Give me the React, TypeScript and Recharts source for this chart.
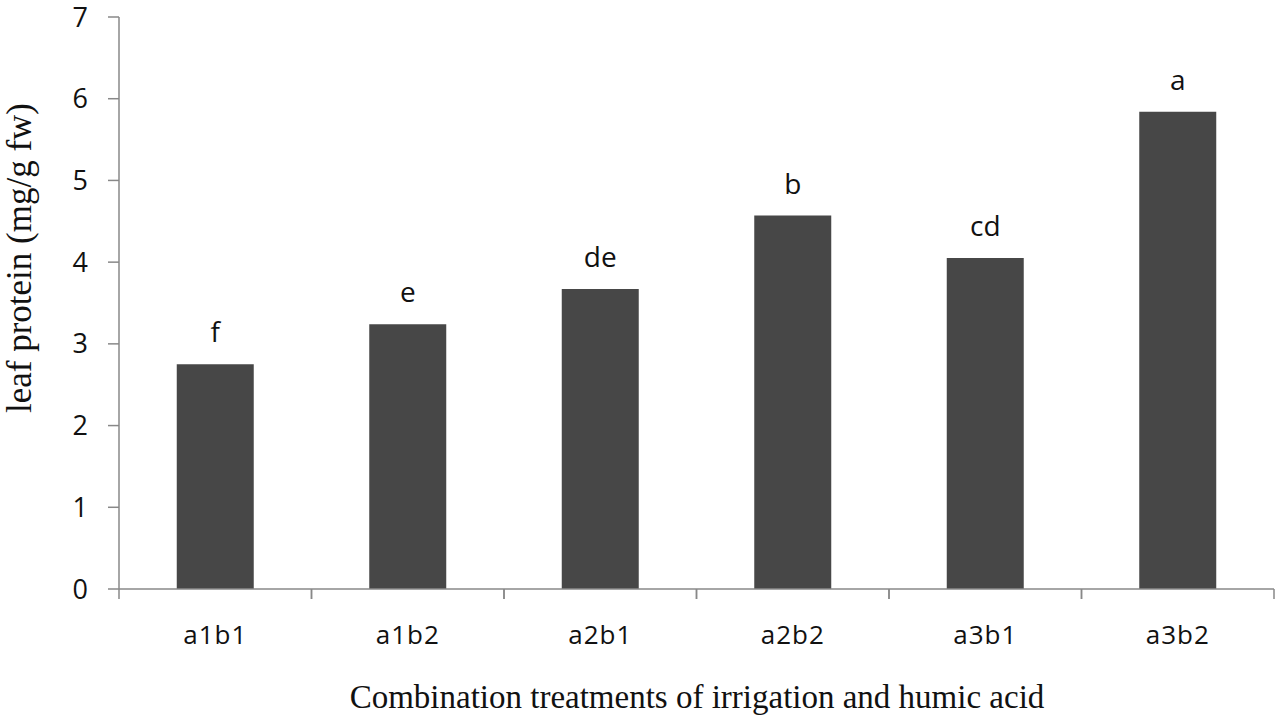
import { BarChart, Bar, XAxis, YAxis, LabelList } from "recharts";

const treatments = ["a1b1", "a1b2", "a2b1", "a2b2", "a3b1", "a3b2"];
const protein = [2.75, 3.24, 3.67, 4.57, 4.05, 5.84];
const letters = ["f", "e", "de", "b", "cd", "a"];
const yTicks = [0, 1, 2, 3, 4, 5, 6, 7];

const data = treatments.map((name, i) => ({ name, protein: protein[i], letter: letters[i] }));

const W = 1275;
const H = 719;
const LEFT = 119;
const TOP = 17;
const BOTTOM = 589;
const BAND = (W - 1 - LEFT) / treatments.length;

function XTick(props: any) {
  const { x, y, payload } = props;
  return (
    <g>
      <line x1={x - BAND / 2} y1={y - 8} x2={x - BAND / 2} y2={y + 2} stroke="#888" strokeWidth={1.5} />
      <line x1={x + BAND / 2} y1={y - 8} x2={x + BAND / 2} y2={y + 2} stroke="#888" strokeWidth={1.5} />
      <text x={x} y={y + 47} textAnchor="middle" fontFamily="Open Sans" fontSize={26} letterSpacing={1} fill="#111">
        {payload.value}
      </text>
    </g>
  );
}

export default function App() {
  return (
    <div style={{ position: "absolute", left: 0, top: 0, width: W, height: H, background: "#fff" }}>
      <BarChart
        width={W}
        height={H}
        data={data}
        margin={{ top: TOP, right: 1, bottom: H - BOTTOM - 60, left: 0 }}
        barCategoryGap="30%"
      >
        <XAxis
          dataKey="name"
          height={60}
          axisLine={{ stroke: "#888", strokeWidth: 1.5 }}
          tickLine={false}
          tick={<XTick />}
          interval={0}
        />
        <YAxis
          width={LEFT}
          domain={[0, 7]}
          ticks={yTicks}
          interval={0}
          axisLine={{ stroke: "#888", strokeWidth: 1.5 }}
          tickLine={{ stroke: "#888", strokeWidth: 1.5 }}
          tickSize={11}
          tickMargin={20}
          tick={{ fontFamily: "Open Sans", fontSize: 27, fill: "#111" }}
        />
        <Bar dataKey="protein" fill="#474747" isAnimationActive={false}>
          <LabelList
            dataKey="letter"
            position="top"
            offset={22}
            style={{ fontFamily: "Open Sans", fontSize: 28, fill: "#111" }}
          />
        </Bar>
      </BarChart>
      <div
        style={{
          position: "absolute",
          left: LEFT,
          right: 0,
          top: 677,
          textAlign: "center",
          fontFamily: "Liberation Serif",
          fontSize: 33,
          color: "#111",
          lineHeight: "40px",
        }}
      >
        Combination treatments of irrigation and humic acid
      </div>
      <div
        style={{
          position: "absolute",
          left: 20,
          top: 258,
          transform: "translate(-50%, -50%) rotate(-90deg)",
          whiteSpace: "nowrap",
          fontFamily: "Liberation Serif",
          fontSize: 35,
          color: "#111",
          lineHeight: "40px",
        }}
      >
        leaf protein (mg/g fw)
      </div>
    </div>
  );
}
